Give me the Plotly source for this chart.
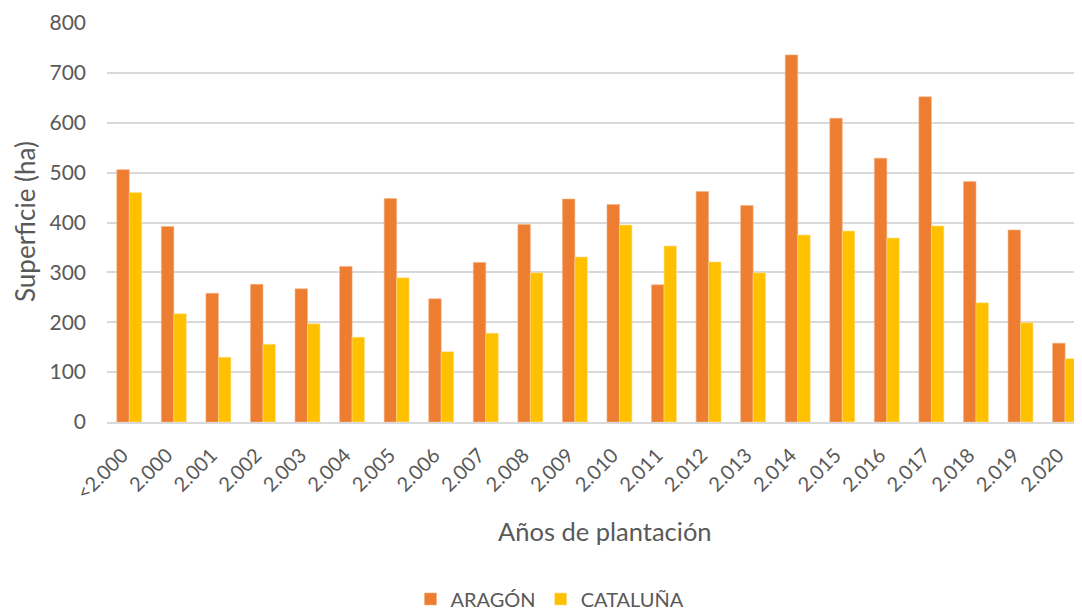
import plotly.graph_objects as go

categories = ["<2.000", "2.000", "2.001", "2.002", "2.003", "2.004", "2.005", "2.006",
              "2.007", "2.008", "2.009", "2.010", "2.011", "2.012", "2.013", "2.014",
              "2.015", "2.016", "2.017", "2.018", "2.019", "2.020"]
aragon = [506, 392, 258, 276, 267, 312, 448, 247, 320, 396, 447, 436, 275, 462, 434,
          736, 609, 529, 652, 482, 385, 158]
cataluna = [460, 217, 130, 156, 197, 170, 289, 141, 178, 299, 331, 395, 353, 321, 299,
            375, 383, 369, 393, 239, 199, 127]

FONT = "Lato"
GREY = "#595959"

fig = go.Figure()
fig.add_trace(go.Bar(x=list(range(len(categories))), y=aragon, name="ARAGÓN",
                     marker=dict(color="#ED7D31", line=dict(color="#F4B183", width=0.6))))
fig.add_trace(go.Bar(x=list(range(len(categories))), y=cataluna, name="CATALUÑA",
                     marker=dict(color="#FFC000", line=dict(color="#FFE08A", width=0.6))))

OFF = 8  # default page body margin
W, H = 1082 - 2 * OFF, 612 - OFF
L, R, T = 107 - OFF, 0, 23 - OFF
B = H - (422 - OFF)
pw = W - L - R
ph = H - T - B

def px_x(p):
    return (p - OFF - L) / pw

def px_y(p):
    return (H - B - (p - OFF)) / ph

fig.update_layout(
    width=W, height=H,
    margin=dict(l=L, r=R, t=T, b=B, autoexpand=False),
    paper_bgcolor="white", plot_bgcolor="white",
    barmode="group", bargap=0.44, bargroupgap=0,
    font=dict(family=FONT, color=GREY, size=20),
    showlegend=True,
    legend=dict(orientation="h", x=px_x(550), xanchor="center", y=px_y(599), yanchor="middle",
                font=dict(size=20, color=GREY), itemwidth=30),
    xaxis=dict(tickmode="array", tickvals=list(range(len(categories))), ticktext=categories,
               range=[-0.5, 21.2], tickangle=-45, showgrid=False, showline=True,
               linecolor="#D9D9D9", linewidth=1.5, ticks="", automargin=False,
               ticklabeloverflow="allow", ticklabelstandoff=12, ticklabelshift=-7,
               tickfont=dict(size=20, color=GREY)),
    yaxis=dict(range=[0, 800], dtick=100, showgrid=True, gridcolor="#D9D9D9", gridwidth=1.5,
               zeroline=False, showline=False, ticks="", ticklen=0, automargin=False,
               ticklabelstandoff=20, tickfont=dict(size=21, color=GREY)),
    annotations=[
        dict(text="Años de plantación", xref="paper", yref="paper", x=px_x(605), y=px_y(531),
             xanchor="center", yanchor="middle", showarrow=False,
             font=dict(size=25.5, color=GREY, family=FONT)),
        dict(text="Superficie (ha)", xref="paper", yref="paper", x=px_x(25), y=px_y(222),
             xanchor="center", yanchor="middle", showarrow=False, textangle=-90,
             font=dict(size=26, color=GREY, family=FONT)),
    ],
)

fig.write_html("out.html")
